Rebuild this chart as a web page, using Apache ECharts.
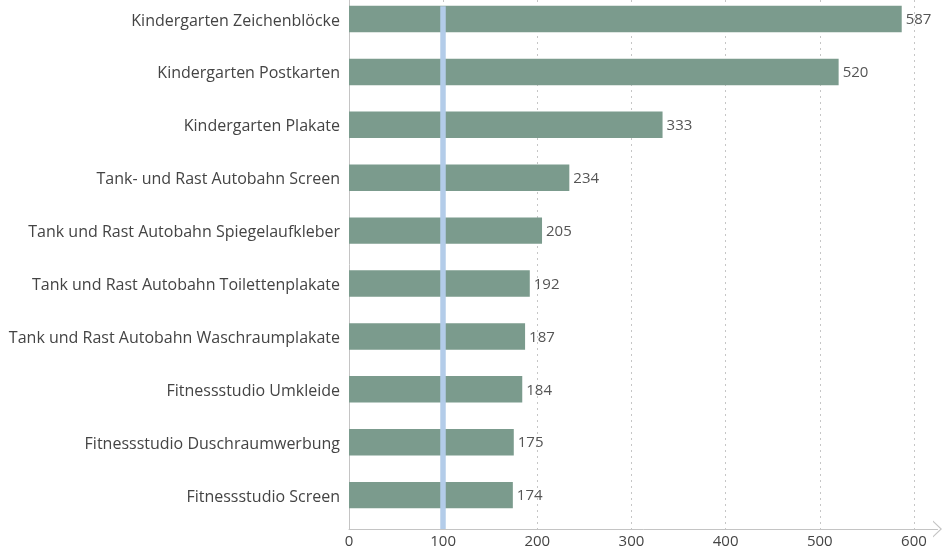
<!DOCTYPE html>
<html>
<head>
<meta charset="utf-8">
<script src="https://cdn.jsdelivr.net/npm/echarts@6/dist/echarts.min.js"></script>
<style>
  html, body { margin: 0; padding: 0; background: #fff; }
  #main { width: 942px; height: 552px; }
</style>
</head>
<body>
<div id="main"></div>
<script>
var categories = [
  'Kindergarten Zeichenblöcke',
  'Kindergarten Postkarten',
  'Kindergarten Plakate',
  'Tank- und Rast Autobahn Screen',
  'Tank und Rast Autobahn Spiegelaufkleber',
  'Tank und Rast Autobahn Toilettenplakate',
  'Tank und Rast Autobahn Waschraumplakate',
  'Fitnessstudio Umkleide',
  'Fitnessstudio Duschraumwerbung',
  'Fitnessstudio Screen'
];
var values = [587, 520, 333, 234, 205, 192, 187, 184, 175, 174];
var refLine = [100];
var xMin = 0, xMax = 625, xStep = 100;

var fontFam = '"Open Sans", "Noto Sans", sans-serif';
var chevron = 'path://M0,9 L8.5,0 L17,9 L15.4,9 L8.5,1.7 L1.6,9 Z';

var myChart = echarts.init(document.getElementById('main'));
myChart.setOption({
  animation: false,
  grid: { left: 349, right: 4.5, top: 0, bottom: 23 },
  xAxis: {
    type: 'value', min: xMin, max: xMax, interval: xStep,
    axisLine: {
      show: true,
      lineStyle: { color: '#c4c4c4', width: 1 },
      symbol: ['none', chevron],
      symbolSize: [17, 9]
    },
    axisTick: { show: false },
    axisLabel: {
      color: '#444', fontSize: 15, fontFamily: fontFam, margin: 5,
      showMaxLabel: false
    },
    splitLine: {
      show: true, showMinLine: false, showMaxLine: false,
      lineStyle: { color: '#c6c6c6', type: [2, 4], width: 1 }
    }
  },
  yAxis: [{
    type: 'category', data: categories, inverse: true,
    axisLine: { show: true, lineStyle: { color: '#c4c4c4' } },
    axisTick: { show: false },
    axisLabel: {
      color: '#444', fontSize: 16, fontFamily: fontFam, margin: 9,
      verticalAlign: 'bottom', lineHeight: 11
    },
    splitLine: { show: false }
  }, {
    // helper scale for the reference line height
    type: 'value', min: 0, max: 1, show: false
  }],
  series: [{
    type: 'bar',
    data: values,
    barWidth: '50%',
    barGap: '-43.7%',
    itemStyle: { color: '#7b9b8d' },
    label: {
      show: true, position: 'right', distance: 4, offset: [0, 1],
      color: '#555', fontSize: 15, fontFamily: fontFam
    }
  }, {
    // empty companion series, keeps the bars in the upper part of each band
    type: 'bar',
    data: [],
    barWidth: '50%',
    barGap: '-43.7%'
  }, {
    type: 'line',
    yAxisIndex: 1,
    data: [],
    markLine: {
      silent: true,
      symbol: ['none', 'none'],
      label: { show: false },
      lineStyle: { color: '#b3cce9', width: 5.5, type: 'solid' },
      data: refLine.map(function (v) {
        return [{ coord: [v, 0] }, { coord: [v, 0.988] }];
      })
    }
  }]
});
</script>
</body>
</html>
